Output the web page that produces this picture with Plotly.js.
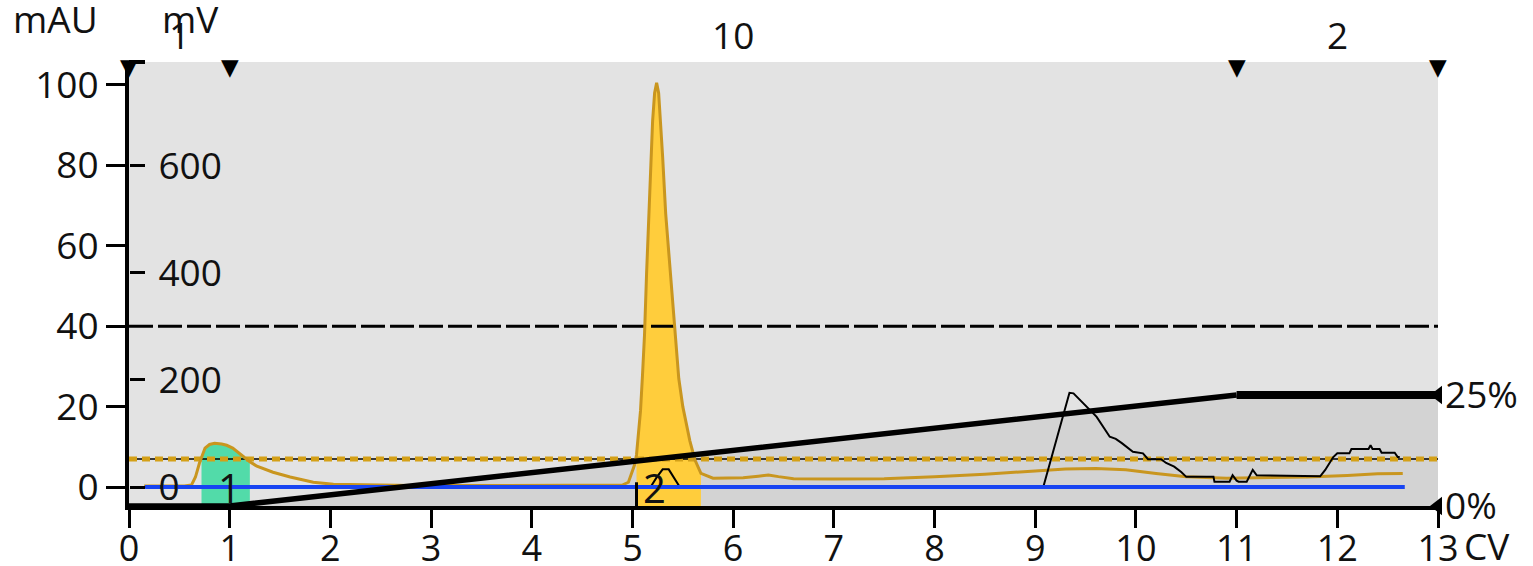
<!DOCTYPE html>
<html>
<head>
<meta charset="utf-8">
<script src="https://cdn.plot.ly/plotly-3.0.1.min.js"></script>
<style>html,body{margin:0;padding:0;background:#fff}</style>
</head>
<body>
<div id="chart" style="width:1533px;height:566px"></div>
<script>
// UV absorbance (mAU) against column volumes
const uvCV  = [0.15, 0.4, 0.55, 0.62, 0.66, 0.70, 0.72, 0.755, 0.80, 0.85, 0.92, 0.97, 1.03, 1.10, 1.17, 1.20, 1.27, 1.35, 1.43, 1.6, 1.83, 2.03, 2.36, 2.8, 3.5, 4.2, 4.8,
               4.90, 4.96, 4.99, 5.02, 5.04, 5.06, 5.08, 5.10, 5.12, 5.14, 5.16, 5.18, 5.20, 5.22, 5.24, 5.26, 5.28, 5.30, 5.33, 5.37, 5.42, 5.46, 5.50, 5.53, 5.57, 5.62, 5.67, 5.68,
               5.8, 5.95, 6.1, 6.25, 6.35, 6.45, 6.6, 7.0, 7.5, 8.0, 8.5, 9.0, 9.3, 9.6, 9.9, 10.2, 10.5, 10.9, 11.3, 11.7, 12.1, 12.4, 12.65];
const uvMAU = [0.3, 0.3, 0.3, 0.5, 2.5, 6, 7.4, 9.7, 10.6, 10.9, 10.7, 10.4, 9.7, 8.3, 6.9, 6.3, 5.2, 4.4, 3.7, 2.5, 1.2, 0.7, 0.5, 0.4, 0.4, 0.4, 0.4,
               0.5, 1.2, 3.5, 5.5, 8, 13, 19, 28, 38, 53, 66, 80, 91, 98, 100.5, 98, 91, 82, 68, 55, 40, 27, 20, 16, 11.5, 6.8, 3.8, 3.4,
               2.2, 2.2, 2.3, 2.7, 3.0, 2.6, 2.1, 2.0, 2.1, 2.6, 3.2, 4.0, 4.5, 4.6, 4.3, 3.4, 2.6, 2.2, 2.3, 2.5, 2.9, 3.3, 3.4];

// conductivity (mV)
const condCV = [0.16, 5.18, 5.24, 5.30, 5.36, 5.42, 5.47, 9.08, 9.34, 9.38, 9.61, 9.74, 9.80, 9.86, 9.92, 9.97, 10.07, 10.12, 10.25, 10.30, 10.38, 10.45, 10.50,
                10.77, 10.78, 10.93, 10.96, 11.0, 11.02, 11.10, 11.16, 11.20, 11.83, 11.88, 11.96, 12.0, 12.12, 12.14, 12.31, 12.33, 12.35, 12.42, 12.44, 12.57, 12.6, 12.62];
const condMV = [0, 0, 18, 33, 33, 15, 0, 0, 176, 175, 131, 94, 90, 82, 74, 66, 63, 52, 52, 45, 38, 28, 19,
                19, 10, 10, 22, 12, 10, 10, 32, 22, 20, 32, 56, 63, 63, 71, 71, 78, 71, 71, 64, 64, 56, 56];

// second detector trace (blue)
const blueCV  = [0.16, 12.67];
const blueVal = [0, 0];

// gradient (%B)
const gradCV  = [0, 1, 11, 13];
const gradPct = [0, 0, 25, 25];

// fraction tubes along the top
const fracBounds = [0, 1, 11, 13];
const fracLabels = ['1', '10', '2'];

// collected peaks
const peakStart  = [0.72, 5.04];
const peakEnd    = [1.20, 5.68];
const peakNames  = ['1', '2'];
const peakLabelX = [1.0, 5.22];
const peakColors = ['#52dba9', '#ffcd3c'];

const thresholdLevel = 40;   // mAU, dashed black
const collectLevel   = 7;    // mAU, dotted gold
const xTicks   = [0, 1, 2, 3, 4, 5, 6, 7, 8, 9, 10, 11, 12, 13];
const mauTicks = [0, 20, 40, 60, 80, 100];
const mvTicks  = [0, 200, 400, 600];

const mauRange = [-4.7, 105.7];
const mvRange  = [-35.4, 793.8];
const pctRange = [0, 100];
const gold = '#c9961f';

const traces = [];

// peak fills, down to the bottom of the plot
peakStart.forEach((s, i) => {
    const xs = [], ys = [];
    uvCV.forEach((x, j) => { if (x >= s && x <= peakEnd[i]) { xs.push(x); ys.push(uvMAU[j]); } });
    traces.push({
        x: [s, ...xs, peakEnd[i], s], y: [mauRange[0], ...ys, mauRange[0], mauRange[0]],
        yaxis: 'y', mode: 'lines', fill: 'toself', fillcolor: peakColors[i],
        line: { width: 0 }, hoverinfo: 'skip'
    });
});

// threshold lines
traces.push({ x: [0, 13], y: [thresholdLevel, thresholdLevel], yaxis: 'y', mode: 'lines',
    line: { color: 'black', width: 3, dash: '24px,5px' } });
traces.push({ x: [0, 13], y: [collectLevel, collectLevel], yaxis: 'y', mode: 'lines',
    line: { color: 'black', width: 1.5 } });
traces.push({ x: [0, 13], y: [collectLevel, collectLevel], yaxis: 'y', mode: 'lines',
    line: { color: '#d4a017', width: 5, dash: '8px,5px' } });

// UV trace
traces.push({ x: uvCV, y: uvMAU, yaxis: 'y', mode: 'lines', line: { color: gold, width: 3 } });

// conductivity and blue trace
traces.push({ x: condCV, y: condMV, yaxis: 'y2', mode: 'lines', line: { color: 'black', width: 2 } });
traces.push({ x: blueCV, y: blueVal, yaxis: 'y2', mode: 'lines', line: { color: '#1744f2', width: 4 } });

// gradient line
traces.push({ x: gradCV.slice(0, 3), y: gradPct.slice(0, 3), yaxis: 'y3', mode: 'lines',
    line: { color: 'black', width: 5.5 } });
traces.push({ x: gradCV.slice(2), y: gradPct.slice(2), yaxis: 'y3', mode: 'lines',
    line: { color: 'black', width: 8 } });
traces.push({ x: [13, 13], y: [gradPct[0], gradPct[3]], yaxis: 'y3', mode: 'markers', cliponaxis: false,
    marker: { symbol: 'triangle-left', size: 16, color: 'black' } });

// gradient area as a shape below all traces
const gradPath = 'M' + gradCV.map((x, i) => x + ',' + gradPct[i]).join(' L') +
    ' L' + gradCV[gradCV.length - 1] + ',' + pctRange[0] + ' Z';

const shapes = [
    { type: 'path', path: gradPath, xref: 'x', yref: 'y3', layer: 'below',
      fillcolor: '#d3d3d3', line: { width: 0 } },
    // top bar and bottom stub of the left axis
    { type: 'line', xref: 'x', xsizemode: 'pixel', xanchor: 0, x0: -16, x1: 16,
      yref: 'paper', y0: 1, y1: 1, line: { color: 'black', width: 4 } },
    { type: 'line', xref: 'x', xsizemode: 'pixel', xanchor: 0, x0: -19, x1: 0,
      yref: 'paper', y0: 0, y1: 0, line: { color: 'black', width: 4 } },
    // start mark of the second collected peak
    { type: 'line', xref: 'x', x0: peakStart[1], x1: peakStart[1], yref: 'y',
      y0: mauRange[0], y1: 1.2, line: { color: 'black', width: 3 } }
];

const annotations = [
    { text: 'mAU', xref: 'paper', x: -0.056, yref: 'paper', y: 1.099, showarrow: false, xanchor: 'center', yanchor: 'middle' },
    { text: 'mV', xref: 'paper', x: 0.047, yref: 'paper', y: 1.099, showarrow: false, xanchor: 'center', yanchor: 'middle' },
    { text: 'CV', xref: 'x', x: 13, xshift: 24, xanchor: 'left', yref: 'paper', y: -0.09, yanchor: 'middle', showarrow: false }
];
fracLabels.forEach((t, i) => annotations.push({
    text: t, xref: 'x', x: (fracBounds[i] + fracBounds[i + 1]) / 2, yref: 'paper', y: 1.063,
    yanchor: 'middle', showarrow: false
}));
fracBounds.forEach(b => annotations.push({
    text: '▼', xref: 'x', x: b, yref: 'paper', y: 1, yanchor: 'top', yshift: 10,
    showarrow: false, font: { size: 23, color: 'black', family: 'DejaVu Sans' }
}));
peakNames.forEach((t, i) => annotations.push({
    text: t, xref: 'x', x: peakLabelX[i], yref: 'y', y: 0, yanchor: 'middle', showarrow: false,
    font: { size: 40 }
}));

const layout = {
    width: 1533, height: 566,
    margin: { l: 129, r: 95, t: 62, b: 60, pad: 0 },
    paper_bgcolor: 'white',
    plot_bgcolor: '#e3e3e3',
    font: { family: 'Open Sans, sans-serif', size: 37, color: '#111' },
    showlegend: false,
    xaxis: { range: [0, 13], tickvals: xTicks, ticks: 'outside', ticklen: 18, tickwidth: 3, tickcolor: 'black',
             showline: true, linewidth: 4, linecolor: 'black', showgrid: false, zeroline: false,
             ticklabelstandoff: -10, tickfont: { size: 36 } },
    yaxis: { range: mauRange, tickvals: mauTicks, ticks: 'outside', ticklen: 19, tickwidth: 3,
             tickcolor: 'black', showline: true, linewidth: 4, linecolor: 'black', showgrid: false, zeroline: false },
    yaxis2: { overlaying: 'y', side: 'right', anchor: 'free', position: 0, range: mvRange, tickvals: mvTicks,
              ticks: 'outside', ticklen: 15, tickwidth: 3, tickcolor: 'black', ticklabelstandoff: 6,
              showline: false, showgrid: false, zeroline: false },
    yaxis3: { overlaying: 'y', side: 'right', range: pctRange, tickvals: [0, 25], ticktext: ['0%', '25%'],
              ticks: '', showline: false, showgrid: false, zeroline: false, ticklabelstandoff: 6 },
    shapes: shapes,
    annotations: annotations
};

Plotly.newPlot('chart', traces, layout, { displayModeBar: false, staticPlot: true });
</script>
</body>
</html>
